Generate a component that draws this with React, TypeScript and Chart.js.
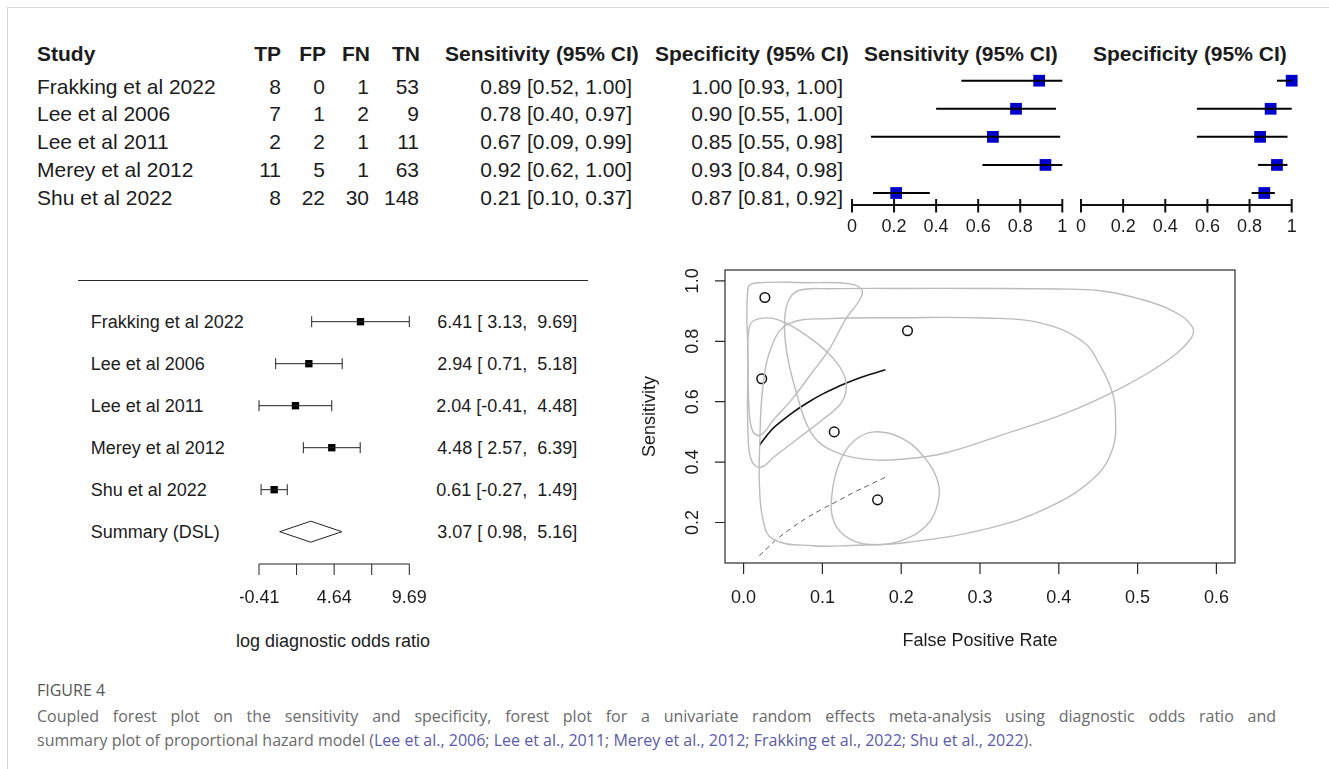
import React, { useEffect, useRef } from "react";
import { Chart, registerables } from "chart.js";
Chart.register(...registerables);

const W = 1329;
const H = 769;
const RFONT = '"Liberation Sans", Arial, Helvetica, sans-serif';
const CFONT = '"Open Sans", "Noto Sans", sans-serif';
const INK = "#1c1c1c";

// ---------- coupled forest plot data ----------
const studies = ["Frakking et al 2022", "Lee et al 2006", "Lee et al 2011", "Merey et al 2012", "Shu et al 2022"];
const tp = [8, 7, 2, 11, 8];
const fp = [0, 1, 2, 5, 22];
const fn = [1, 2, 1, 1, 30];
const tn = [53, 9, 11, 63, 148];
const sens = [0.89, 0.78, 0.67, 0.92, 0.21];
const sensLo = [0.52, 0.4, 0.09, 0.62, 0.1];
const sensHi = [1.0, 0.97, 0.99, 1.0, 0.37];
const spec = [1.0, 0.9, 0.85, 0.93, 0.87];
const specLo = [0.93, 0.55, 0.55, 0.84, 0.81];
const specHi = [1.0, 1.0, 0.98, 0.98, 0.92];
const propTicks = [0, 0.2, 0.4, 0.6, 0.8, 1];
const propTickLabels = ["0", "0.2", "0.4", "0.6", "0.8", "1"];

// ---------- log DOR forest data ----------
const summaryLabel = "Summary (DSL)";
const lnDor = [6.41, 2.94, 2.04, 4.48, 0.61];
const lnDorLo = [3.13, 0.71, -0.41, 2.57, -0.27];
const lnDorHi = [9.69, 5.18, 4.48, 6.39, 1.49];
const summaryEst = [3.07];
const summaryLo = [0.98];
const summaryHi = [5.16];
const dorTicks = [-0.41, 2.115, 4.64, 7.165, 9.69];
const dorTickLabels = ["-0.41", "", "4.64", "", "9.69"];

// ---------- SROC summary plot data ----------
const pointFpr = [0.027, 0.208, 0.023, 0.115, 0.17];
const pointSens = [0.945, 0.835, 0.676, 0.5, 0.275];
const curveFpr = [0.02, 0.03, 0.04, 0.06, 0.08, 0.1, 0.12, 0.14, 0.16, 0.18];
const curveSens = [0.455, 0.49, 0.518, 0.56, 0.595, 0.625, 0.65, 0.672, 0.69, 0.706];
const lowerFpr = [0.02, 0.03, 0.04, 0.06, 0.08, 0.1, 0.12, 0.14, 0.16, 0.18];
const lowerSens = [0.09, 0.115, 0.14, 0.18, 0.215, 0.245, 0.272, 0.3, 0.325, 0.35];
const regionAFpr = [0.0055, 0.015, 0.08, 0.135, 0.15, 0.148, 0.13, 0.109, 0.085, 0.062, 0.038, 0.022, 0.012, 0.007, 0.0055];
const regionASens = [0.975, 0.993, 0.994, 0.99, 0.97, 0.94, 0.875, 0.775, 0.69, 0.61, 0.54, 0.49, 0.5, 0.57, 0.76];
const regionBFpr = [0.0076, 0.02, 0.045, 0.088, 0.118, 0.13, 0.125, 0.1, 0.07, 0.04, 0.022, 0.01, 0.0055, 0.0055];
const regionBSens = [0.85, 0.875, 0.87, 0.804, 0.73, 0.665, 0.6, 0.54, 0.48, 0.42, 0.383, 0.405, 0.5, 0.705];
const regionCFpr = [0.071, 0.109, 0.2, 0.3, 0.4, 0.45, 0.5, 0.545, 0.57, 0.565, 0.533, 0.483, 0.41, 0.33, 0.257, 0.2065, 0.156, 0.109, 0.085, 0.067, 0.055, 0.052, 0.058];
const regionCSens = [0.969, 0.974, 0.975, 0.975, 0.973, 0.968, 0.942, 0.9, 0.845, 0.8, 0.728, 0.651, 0.563, 0.492, 0.431, 0.411, 0.409, 0.442, 0.5, 0.63, 0.76, 0.87, 0.94];
const regionDFpr = [0.037, 0.058, 0.109, 0.2, 0.307, 0.375, 0.43, 0.453, 0.468, 0.472, 0.468, 0.443, 0.382, 0.307, 0.2065, 0.136, 0.088, 0.037, 0.0245, 0.02, 0.0203, 0.0245];
const regionDSens = [0.793, 0.859, 0.875, 0.878, 0.877, 0.862, 0.8, 0.717, 0.63, 0.552, 0.442, 0.343, 0.244, 0.178, 0.134, 0.124, 0.123, 0.145, 0.211, 0.33, 0.442, 0.65];
const regionEFpr = [0.166, 0.2, 0.228, 0.246, 0.247, 0.232, 0.2, 0.166, 0.135, 0.115, 0.112, 0.122, 0.14];
const regionESens = [0.5, 0.48, 0.42, 0.34, 0.27, 0.19, 0.14, 0.127, 0.145, 0.2, 0.29, 0.4, 0.47];
const srocXTicks = [0, 0.1, 0.2, 0.3, 0.4, 0.5, 0.6];
const srocYTicks = [0.2, 0.4, 0.6, 0.8, 1.0];
const srocXRange = [-0.0236, 0.6236];
const srocYRange = [0.066, 1.036];

const fmt2 = (v: number) => v.toFixed(2);
const padNum = (v: number) => (v < 0 ? "" : " ") + v.toFixed(2);
const ciText = (e: number, l: number, h: number) => `${fmt2(e)} [${fmt2(l)}, ${fmt2(h)}]`;
const dorText = (e: number, l: number, h: number) => `${fmt2(e)} [${padNum(l)}, ${padNum(h)}]`;

// ---------- plugins ----------
const closeLoopPlugin = {
  id: "closeLoop",
  afterDatasetsUpdate(chart: any) {
    chart.data.datasets.forEach((ds: any, i: number) => {
      if (ds.closed) {
        const meta = chart.getDatasetMeta(i);
        if (meta.dataset) {
          meta.dataset._loop = true;
          meta.dataset._fullLoop = true;
        }
      }
    });
  },
};

const axisPlugin = {
  id: "rAxis",
  afterDraw(chart: any) {
    const o = chart.options.plugins.rAxis;
    if (!o) return;
    const { ctx, chartArea, scales } = chart;
    const x = scales.x;
    const yA = chartArea.bottom + o.offset;
    ctx.save();
    ctx.strokeStyle = o.color;
    ctx.lineWidth = o.lineWidth;
    ctx.beginPath();
    const x0 = x.getPixelForValue(o.ticks[0]);
    const x1 = x.getPixelForValue(o.ticks[o.ticks.length - 1]);
    ctx.moveTo(x0, yA);
    ctx.lineTo(x1, yA);
    o.ticks.forEach((t: number) => {
      const px = x.getPixelForValue(t);
      ctx.moveTo(px, yA - o.up);
      ctx.lineTo(px, yA + o.down);
    });
    ctx.stroke();
    ctx.fillStyle = INK;
    ctx.font = `${o.fontSize}px ${RFONT}`;
    ctx.textAlign = "center";
    ctx.textBaseline = "middle";
    o.ticks.forEach((t: number, i: number) => {
      if (o.labels[i]) ctx.fillText(o.labels[i], x.getPixelForValue(t), yA + o.labelOffset);
    });
    ctx.restore();
  },
};

const srocFramePlugin = {
  id: "srocFrame",
  afterDraw(chart: any) {
    const o = chart.options.plugins.srocFrame;
    if (!o) return;
    const { ctx, chartArea, scales } = chart;
    const { left, right, top, bottom } = chartArea;
    ctx.save();
    ctx.strokeStyle = "#2a2a2a";
    ctx.lineWidth = 1.2;
    ctx.strokeRect(left, top, right - left, bottom - top);
    ctx.beginPath();
    srocXTicks.forEach((t) => {
      const px = scales.x.getPixelForValue(t);
      ctx.moveTo(px, bottom);
      ctx.lineTo(px, bottom + 11);
    });
    srocYTicks.forEach((t) => {
      const py = scales.y.getPixelForValue(t);
      ctx.moveTo(left, py);
      ctx.lineTo(left - 10, py);
    });
    ctx.stroke();
    ctx.fillStyle = INK;
    ctx.font = `18px ${RFONT}`;
    ctx.textAlign = "center";
    ctx.textBaseline = "middle";
    srocXTicks.forEach((t) => ctx.fillText(t.toFixed(1), scales.x.getPixelForValue(t), bottom + 35));
    ctx.fillText("False Positive Rate", (left + right) / 2, bottom + 78);
    srocYTicks.forEach((t) => {
      ctx.save();
      ctx.translate(left - 32, scales.y.getPixelForValue(t));
      ctx.rotate(-Math.PI / 2);
      ctx.fillText(t.toFixed(1), 0, 0);
      ctx.restore();
    });
    ctx.save();
    ctx.translate(left - 75, (top + bottom) / 2);
    ctx.rotate(-Math.PI / 2);
    ctx.fillText("Sensitivity", 0, 0);
    ctx.restore();
    ctx.restore();
  },
};

const baseOptions = (padding: any) => ({
  animation: false,
  responsive: false,
  events: [],
  layout: { padding },
});

// ---------- chart configs ----------
const forestConfig = (est: number[], lo: number[], hi: number[], padding: any) => ({
  type: "line",
  data: {
    datasets: [
      ...est.map((_, i) => ({
        data: [
          { x: lo[i], y: i },
          { x: hi[i], y: i },
        ],
        borderColor: "#000",
        borderWidth: 2,
        pointRadius: 0,
        clip: false,
      })),
      {
        data: est.map((v, i) => ({ x: v, y: i })),
        showLine: false,
        pointStyle: "rect",
        pointRadius: 8.3,
        pointBackgroundColor: "#0000cc",
        pointBorderColor: "#0000cc",
        pointBorderWidth: 0,
        clip: false,
      },
    ],
  },
  options: {
    ...baseOptions(padding),
    plugins: {
      legend: { display: false },
      tooltip: { enabled: false },
      rAxis: { ticks: propTicks, labels: propTickLabels, offset: 12, up: 6, down: 7.5, lineWidth: 2, color: "#111", fontSize: 18, labelOffset: 22 },
    },
    scales: {
      x: { type: "linear", min: 0, max: 1, display: false },
      y: { type: "linear", min: 0, max: est.length - 1, reverse: true, display: false },
    },
  },
  plugins: [axisPlugin],
});

const dorConfig = () => {
  const sRow = lnDor.length;
  return {
    type: "line",
    data: {
      datasets: [
        ...lnDor.map((_, i) => ({
          data: [
            { x: lnDorLo[i], y: i },
            { x: lnDorHi[i], y: i },
          ],
          borderColor: "#222",
          borderWidth: 1,
          pointRadius: 0,
          clip: false,
        })),
        {
          data: [...lnDorLo.map((v, i) => ({ x: v, y: i })), ...lnDorHi.map((v, i) => ({ x: v, y: i }))],
          showLine: false,
          pointStyle: "line",
          pointRotation: 90,
          pointRadius: 5.5,
          pointBorderColor: "#222",
          pointBorderWidth: 1,
          clip: false,
        },
        {
          data: lnDor.map((v, i) => ({ x: v, y: i })),
          showLine: false,
          pointStyle: "rect",
          pointRadius: 5.2,
          pointBackgroundColor: "#000",
          pointBorderWidth: 0,
          clip: false,
        },
        {
          data: [
            { x: summaryLo[0], y: sRow },
            { x: summaryEst[0], y: sRow - 0.25 },
            { x: summaryHi[0], y: sRow },
            { x: summaryEst[0], y: sRow + 0.25 },
            { x: summaryLo[0], y: sRow },
          ],
          borderColor: "#222",
          borderWidth: 1,
          pointRadius: 0,
          clip: false,
        },
      ],
    },
    options: {
      ...baseOptions({ left: 19, right: 30.7, top: 26.7, bottom: 93.3 }),
      plugins: {
        legend: { display: false },
        tooltip: { enabled: false },
        rAxis: { ticks: dorTicks, labels: dorTickLabels, offset: 32.3, up: 0, down: 11, lineWidth: 1, color: "#222", fontSize: 18, labelOffset: 34 },
      },
      scales: {
        x: { type: "linear", min: dorTicks[0], max: dorTicks[dorTicks.length - 1], display: false },
        y: { type: "linear", min: 0, max: sRow, reverse: true, display: false },
      },
    },
    plugins: [axisPlugin],
  };
};

const toPts = (xs: number[], ys: number[]) => xs.map((x, i) => ({ x, y: ys[i] }));

const srocConfig = () => {
  const regions = [
    [regionAFpr, regionASens],
    [regionBFpr, regionBSens],
    [regionCFpr, regionCSens],
    [regionDFpr, regionDSens],
    [regionEFpr, regionESens],
  ];
  return {
    type: "line",
    data: {
      datasets: [
        ...regions.map(([xs, ys]) => ({
          data: toPts(xs, ys),
          closed: true,
          borderColor: "#bcbcbc",
          borderWidth: 1.4,
          tension: 0.4,
          pointRadius: 0,
          clip: false,
        })),
        {
          data: toPts(curveFpr, curveSens),
          borderColor: "#111",
          borderWidth: 1.6,
          tension: 0.4,
          pointRadius: 0,
        },
        {
          data: toPts(lowerFpr, lowerSens),
          borderColor: "#555",
          borderWidth: 1,
          borderDash: [5, 4],
          tension: 0.4,
          pointRadius: 0,
        },
        {
          data: toPts(pointFpr, pointSens),
          showLine: false,
          pointStyle: "circle",
          pointRadius: 4.8,
          pointBorderWidth: 1.5,
          pointBorderColor: "#111",
          pointBackgroundColor: "rgba(0,0,0,0)",
        },
      ],
    },
    options: {
      ...baseOptions({ left: 95, right: 15, top: 15, bottom: 92 }),
      plugins: { legend: { display: false }, tooltip: { enabled: false }, srocFrame: {} },
      scales: {
        x: { type: "linear", min: srocXRange[0], max: srocXRange[1], display: false },
        y: { type: "linear", min: srocYRange[0], max: srocYRange[1], display: false },
      },
    },
    plugins: [closeLoopPlugin, srocFramePlugin],
  };
};

// ---------- components ----------
function ChartBox({ left, top, width, height, make }: any) {
  const ref = useRef<HTMLCanvasElement | null>(null);
  useEffect(() => {
    const chart = new Chart(ref.current as any, make());
    return () => chart.destroy();
  }, []);
  return (
    <div style={{ position: "absolute", left, top, width, height }}>
      <canvas ref={ref} width={width} height={height} style={{ width, height, display: "block" }} />
    </div>
  );
}

function Txt({ x, y, size, align = "left", bold = false, color = INK, family = RFONT, capRatio = 0.4885, extra = {}, children }: any) {
  const style: any = {
    position: "absolute",
    top: y - capRatio * size,
    fontSize: size,
    lineHeight: `${size}px`,
    fontFamily: family,
    fontWeight: bold ? 700 : 400,
    color,
    whiteSpace: "pre",
  };
  if (align === "left") style.left = x;
  else if (align === "right") style.right = W - x;
  else {
    style.left = x - 300;
    style.width = 600;
    style.textAlign = "center";
  }
  return <div style={{ ...style, ...extra }}>{children}</div>;
}

const rowY = (i: number) => 86 + 27.7 * i;
const dorRowY = (i: number) => 321.7 + 42 * i;

export default function App() {
  const link = "#5b5aa8";
  const capGray = "#6a6a6a";
  const refs = ["Lee et al., 2006", "Lee et al., 2011", "Merey et al., 2012", "Frakking et al., 2022", "Shu et al., 2022"];
  return (
    <div style={{ position: "absolute", left: 0, top: 0, width: W, height: H, background: "#fff", overflow: "hidden" }}>
      {/* frame */}
      <div style={{ position: "absolute", left: 7, top: 7, width: W - 7, height: 1, background: "#d6d6d6" }} />
      <div style={{ position: "absolute", left: 7, top: 7, width: 1, height: H - 7, background: "#d6d6d6" }} />

      {/* table header */}
      <Txt x={37} y={53} size={21} bold>Study</Txt>
      <Txt x={281} y={53} size={21} bold align="right">TP</Txt>
      <Txt x={326} y={53} size={21} bold align="right">FP</Txt>
      <Txt x={370} y={53} size={21} bold align="right">FN</Txt>
      <Txt x={420} y={53} size={21} bold align="right">TN</Txt>
      <Txt x={445} y={53} size={21} bold>Sensitivity (95% CI)</Txt>
      <Txt x={655} y={53} size={21} bold>Specificity (95% CI)</Txt>
      <Txt x={864} y={53} size={21} bold>Sensitivity (95% CI)</Txt>
      <Txt x={1093} y={53} size={21} bold>Specificity (95% CI)</Txt>
      {studies.map((s, i) => (
        <React.Fragment key={s}>
          <Txt x={37} y={rowY(i)} size={21}>{s}</Txt>
          <Txt x={281} y={rowY(i)} size={21} align="right">{String(tp[i])}</Txt>
          <Txt x={325} y={rowY(i)} size={21} align="right">{String(fp[i])}</Txt>
          <Txt x={369} y={rowY(i)} size={21} align="right">{String(fn[i])}</Txt>
          <Txt x={419} y={rowY(i)} size={21} align="right">{String(tn[i])}</Txt>
          <Txt x={632} y={rowY(i)} size={21} align="right">{ciText(sens[i], sensLo[i], sensHi[i])}</Txt>
          <Txt x={843} y={rowY(i)} size={21} align="right">{ciText(spec[i], specLo[i], specHi[i])}</Txt>
        </React.Fragment>
      ))}

      <ChartBox left={830} top={60} width={250} height={185} make={() => forestConfig(sens, sensLo, sensHi, { left: 22, right: 17.7, top: 20.7, bottom: 52 })} />
      <ChartBox left={1065} top={60} width={250} height={185} make={() => forestConfig(spec, specLo, specHi, { left: 16, right: 23.3, top: 20.7, bottom: 52 })} />

      {/* DOR forest */}
      <div style={{ position: "absolute", left: 78, top: 280, width: 510, height: 1.3, background: "#2a2a2a" }} />
      {[...studies, summaryLabel].map((s, i) => (
        <Txt key={s} x={90.7} y={dorRowY(i)} size={18}>{s}</Txt>
      ))}
      {lnDor.map((v, i) => (
        <Txt key={"d" + i} x={577.3} y={dorRowY(i)} size={18} align="right">{dorText(v, lnDorLo[i], lnDorHi[i])}</Txt>
      ))}
      <Txt x={577.3} y={dorRowY(lnDor.length)} size={18} align="right">{dorText(summaryEst[0], summaryLo[0], summaryHi[0])}</Txt>
      <Txt x={333} y={641} size={18} align="center">log diagnostic odds ratio</Txt>
      <ChartBox left={240} top={295} width={200} height={330} make={dorConfig} />

      {/* SROC */}
      <ChartBox left={630} top={255} width={620} height={400} make={srocConfig} />

      {/* caption */}
      <Txt x={37} y={690} size={16} family={CFONT} capRatio={0.531} color="#555">FIGURE 4</Txt>
      <Txt
        x={37}
        y={716}
        size={16}
        family={CFONT}
        capRatio={0.531}
        color={capGray}
        extra={{ width: 1239, whiteSpace: "normal", textAlign: "justify", textAlignLast: "justify" }}
      >
        Coupled forest plot on the sensitivity and specificity, forest plot for a univariate random effects meta-analysis using diagnostic odds ratio and
      </Txt>
      <Txt x={37} y={740} size={16} family={CFONT} capRatio={0.531} color={capGray}>
        <span>summary plot of proportional hazard model (</span>
        {refs.map((r, i) => (
          <React.Fragment key={r}>
            <span style={{ color: link }}>{r}</span>
            {i < refs.length - 1 ? <span>; </span> : null}
          </React.Fragment>
        ))}
        <span>).</span>
      </Txt>
    </div>
  );
}
